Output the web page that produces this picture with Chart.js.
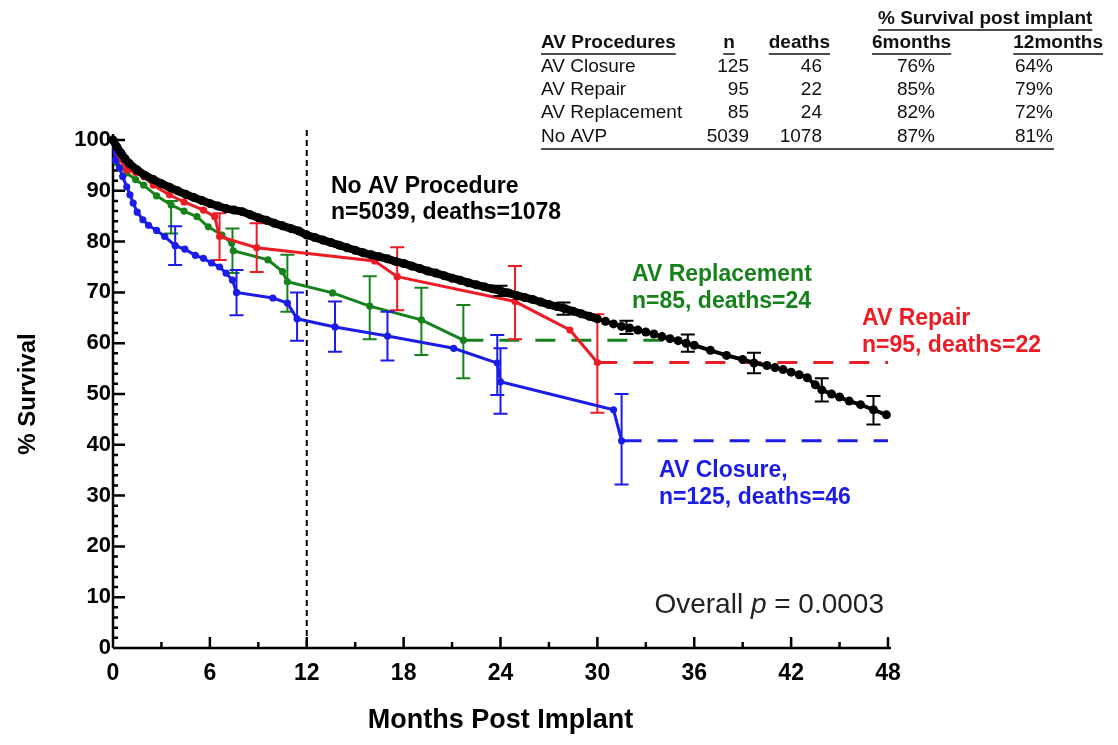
<!DOCTYPE html>
<html>
<head>
<meta charset="utf-8">
<script src="https://cdn.jsdelivr.net/npm/chart.js@4.4.0/dist/chart.umd.min.js"></script>
<style>
  html, body { margin: 0; padding: 0; background: #fff; }
</style>
</head>
<body>
<canvas id="km" width="1118" height="745"></canvas>
<script>
// Kaplan-Meier survival by AV procedure
const noAvpMonths = [0, 0.25, 0.5, 0.75, 1, 1.5, 2, 2.5, 3, 3.5, 4, 4.5, 5, 5.5, 6, 6.5, 7, 7.5, 8, 8.5,
  9, 9.5, 10, 10.5, 11, 11.5, 12, 12.5, 13, 13.5, 14, 14.5, 15, 15.5, 16, 16.5, 17, 17.5, 18, 18.5,
  19, 19.5, 20, 20.5, 21, 21.5, 22, 22.5, 23, 23.5, 24, 24.5, 25, 25.5, 26, 26.5, 27, 27.5, 28, 28.5,
  29, 29.5, 30, 30.5, 31, 31.5, 32, 32.5, 33, 33.5, 34, 34.5, 35, 35.5, 36, 37, 38, 39, 39.7, 40.5,
  41, 41.5, 42, 42.5, 43, 43.5, 43.9, 44.5, 45, 45.6, 46.3, 47.1, 47.9];
const noAvpSurv = [100, 98.6, 97.4, 96.3, 95.4, 94.1, 93.0, 92.2, 91.4, 90.7, 90.0, 89.3, 88.7, 88.1, 87.5, 87.0, 86.5, 86.2, 85.9, 85.3,
  84.7, 84.2, 83.6, 83.1, 82.6, 82.1, 81.3, 80.8, 80.3, 79.8, 79.3, 78.8, 78.3, 77.8, 77.4, 77.0, 76.6, 76.1, 75.7, 75.2,
  74.7, 74.2, 73.8, 73.3, 72.8, 72.4, 71.9, 71.5, 71.1, 70.7, 70.3, 69.9, 69.4, 69.0, 68.6, 68.1, 67.6, 67.2, 66.8, 66.3,
  65.8, 65.3, 64.8, 64.3, 63.8, 63.3, 63.0, 62.6, 62.2, 61.8, 61.3, 60.9, 60.5, 60.0, 59.6, 58.6, 57.6, 56.8, 56.1, 55.6,
  55.2, 54.8, 54.3, 53.8, 53.2, 51.8, 50.8, 50.0, 49.4, 48.6, 47.9, 46.9, 45.9];
const noAvpErrMonths = [24, 27.9, 31.8, 35.6, 39.7, 43.9, 47.1];
const noAvpErrLow = [69.3, 65.6, 61.8, 58.3, 54.1, 48.5, 44.0];
const noAvpErrHigh = [71.3, 68.0, 64.4, 61.7, 58.1, 53.1, 49.6];

const closureMonths = [0, 0.15, 0.4, 0.6, 0.85, 1.05, 1.25, 1.5, 1.85, 2.2, 2.7, 3.2, 3.85, 4.45, 5.1, 5.6,
  6.1, 6.6, 7.0, 7.4, 7.65, 9.9, 10.8, 11.4, 13.75, 17.0, 21.1, 23.8, 24.0, 31.0, 31.5];
const closureSurv = [100, 96, 94.5, 92.8, 90.8, 89.2, 87.6, 85.8, 84.3, 83.2, 82.2, 81.0, 79.2, 78.5, 77.3, 76.7,
  75.8, 75.0, 73.8, 72.4, 70.0, 68.9, 67.9, 64.8, 63.2, 61.4, 59.0, 56.1, 52.4, 46.9, 40.8];
const closureErrMonths = [3.85, 7.65, 11.4, 13.75, 17.0, 23.8, 24.0, 31.5];
const closureErrLow = [75.4, 65.5, 60.5, 58.3, 56.6, 49.8, 46.1, 32.2];
const closureErrHigh = [83.0, 74.4, 70.0, 68.2, 66.2, 61.6, 59.0, 50.0];

const repairMonths = [0, 0.3, 0.85, 1.4, 1.9, 2.5, 3.5, 4.4, 5.6, 6.3, 6.6, 8.9, 16.2, 17.6, 24.9, 28.3, 30.0];
const repairSurv = [100, 96.8, 94.1, 93.6, 92.8, 91.1, 89.2, 87.8, 86.2, 84.9, 81.0, 78.8, 76.2, 73.1, 68.2, 62.6, 56.2];
const repairErrMonths = [6.6, 8.9, 17.6, 24.9, 30.0];
const repairErrLow = [76.4, 74.0, 66.5, 60.8, 46.3];
const repairErrHigh = [85.6, 83.6, 78.9, 75.2, 65.7];

const replMonths = [0, 0.23, 0.85, 1.4, 1.9, 2.7, 3.6, 4.4, 5.2, 5.9, 6.75, 7.35, 7.45, 9.6, 10.5, 10.8,
  13.6, 15.9, 19.1, 21.7];
const replSurv = [100, 95.5, 93.5, 92.2, 91.1, 89.0, 87.2, 86.0, 84.9, 82.9, 81.3, 79.7, 78.2, 76.4, 74.1, 72.1,
  69.9, 67.3, 64.6, 60.6];
const replErrMonths = [3.6, 7.4, 10.8, 15.9, 19.1, 21.7];
const replErrLow = [81.6, 73.8, 66.2, 60.8, 57.7, 53.1];
const replErrHigh = [88.0, 82.6, 77.4, 73.2, 70.9, 67.5];

// where the dashed "last value carried forward" lines stop: closure, repair, replacement
const dashEndMonths = [48, 48, 35];

const xTicks = [0, 6, 12, 18, 24, 30, 36, 42, 48];
const yTicks = [0, 10, 20, 30, 40, 50, 60, 70, 80, 90, 100];

const tableHead = ['AV Procedures', 'n', 'deaths', '6months', '12months'];
const tableGroups = ['AV Closure', 'AV Repair', 'AV Replacement', 'No AVP'];
const tableN = ['125', '95', '85', '5039'];
const tableDeaths = ['46', '22', '24', '1078'];
const tableSurv6 = ['76%', '85%', '82%', '87%'];
const tableSurv12 = ['64%', '79%', '72%', '81%'];

const RED = '#ec1c24';
const GREEN = '#17821c';
const BLUE = '#1c1ce8';
const SANS = '"Liberation Sans", Arial, sans-serif';

function pts(xs, ys) {
  return xs.map((x, i) => ({ x: x, y: ys[i] }));
}

function carry(xs, ys, end) {
  const last = ys[ys.length - 1];
  return [{ x: xs[xs.length - 1], y: last }, { x: end, y: last }];
}

function curve(xs, ys, color, r, w) {
  return {
    data: pts(xs, ys),
    borderColor: color,
    backgroundColor: color,
    pointBackgroundColor: color,
    pointBorderColor: color,
    pointBorderWidth: 0,
    pointRadius: r,
    borderWidth: w,
    tension: 0,
    clip: false
  };
}

function dashed(xs, ys, end, color) {
  return {
    data: carry(xs, ys, end),
    borderColor: color,
    borderWidth: 3,
    borderDash: [20, 16],
    pointRadius: 0,
    clip: false
  };
}

const black = curve(noAvpMonths, noAvpSurv, '#000', 4.5, 4);
// the early part of the big cohort reads as a solid thick band
black.segment = { borderWidth: c => (c.p0.parsed.x < 30 ? 8 : 4) };
black.err = [noAvpErrMonths, noAvpErrLow, noAvpErrHigh];
const blue = curve(closureMonths, closureSurv, BLUE, 3.6, 3);
blue.err = [closureErrMonths, closureErrLow, closureErrHigh];
const red = curve(repairMonths, repairSurv, RED, 3.6, 3);
red.err = [repairErrMonths, repairErrLow, repairErrHigh];
const green = curve(replMonths, replSurv, GREEN, 3.6, 3);
green.err = [replErrMonths, replErrLow, replErrHigh];

// error bars, drawn right after their own curve
const errorBars = {
  id: 'errorBars',
  afterDatasetDraw(chart, args) {
    const ds = chart.data.datasets[args.index];
    if (!ds.err) return;
    const { x, y } = chart.scales;
    const ctx = chart.ctx;
    ctx.save();
    ctx.strokeStyle = ds.borderColor;
    ctx.lineWidth = 2;
    ds.err[0].forEach((m, i) => {
      const px = x.getPixelForValue(m);
      const lo = y.getPixelForValue(ds.err[1][i]);
      const hi = y.getPixelForValue(ds.err[2][i]);
      ctx.beginPath();
      ctx.moveTo(px, lo); ctx.lineTo(px, hi);
      ctx.moveTo(px - 7, lo); ctx.lineTo(px + 7, lo);
      ctx.moveTo(px - 7, hi); ctx.lineTo(px + 7, hi);
      ctx.stroke();
    });
    ctx.restore();
  }
};

// inward tick marks, minor ticks and the 12 month reference line
const axisMarks = {
  id: 'axisMarks',
  beforeDatasetsDraw(chart) {
    const { ctx, chartArea: a, scales: { x, y } } = chart;
    ctx.save();
    ctx.strokeStyle = '#000';
    ctx.lineWidth = 2.5;
    ctx.beginPath();
    ctx.moveTo(a.left, y.getPixelForValue(0)); ctx.lineTo(a.right + 3, y.getPixelForValue(0));
    ctx.moveTo(a.left, y.getPixelForValue(0)); ctx.lineTo(a.left, a.top - 6);
    for (let v = 0; v <= 100; v += 2) {
      const py = y.getPixelForValue(v);
      ctx.moveTo(a.left, py); ctx.lineTo(a.left + (v % 10 === 0 ? 12 : 5), py);
    }
    for (let m = 0; m <= 48; m += 3) {
      const px = x.getPixelForValue(m);
      ctx.moveTo(px, a.bottom); ctx.lineTo(px, a.bottom - (m % 6 === 0 ? 11 : 6));
    }
    ctx.stroke();
    ctx.lineWidth = 2;
    ctx.setLineDash([6, 4]);
    ctx.beginPath();
    const px12 = x.getPixelForValue(12);
    ctx.moveTo(px12, a.top - 10); ctx.lineTo(px12, a.bottom);
    ctx.stroke();
    ctx.restore();
  }
};

function underline(ctx, x, y, w) {
  ctx.beginPath();
  ctx.moveTo(x, y); ctx.lineTo(x + w, y);
  ctx.stroke();
}

const texts = {
  id: 'texts',
  afterDraw(chart) {
    const ctx = chart.ctx;
    ctx.save();
    ctx.textBaseline = 'middle';

    // group labels
    ctx.font = 'bold 23px ' + SANS;
    ctx.textAlign = 'left';
    ctx.fillStyle = '#000';
    ctx.fillText('No AV Procedure', 331, 187);
    ctx.fillText('n=5039, deaths=1078', 331, 213);
    ctx.fillStyle = GREEN;
    ctx.fillText('AV Replacement', 632, 275);
    ctx.fillText('n=85, deaths=24', 632, 302);
    ctx.fillStyle = RED;
    ctx.fillText('AV Repair', 862, 319);
    ctx.fillText('n=95, deaths=22', 862, 346);
    ctx.fillStyle = BLUE;
    ctx.fillText('AV Closure,', 659, 471);
    ctx.fillText('n=125, deaths=46', 659, 498);

    // p value
    ctx.fillStyle = '#222';
    ctx.font = '28px ' + SANS;
    ctx.textAlign = 'right';
    const tail = ' = 0.0003';
    ctx.fillText(tail, 884, 605);
    let xr = 884 - ctx.measureText(tail).width;
    ctx.font = 'italic 28px ' + SANS;
    ctx.fillText('p', xr, 605);
    xr -= ctx.measureText('p').width;
    ctx.font = '28px ' + SANS;
    ctx.fillText('Overall ', xr, 605);

    // summary table
    ctx.fillStyle = '#111';
    ctx.strokeStyle = '#111';
    ctx.lineWidth = 1.5;
    ctx.font = 'bold 19px ' + SANS;
    ctx.textAlign = 'left';
    const title = '% Survival post implant';
    ctx.fillText(title, 878, 19);
    underline(ctx, 878, 30, ctx.measureText(title).width);

    const headX = [541, 729, 830, 872, 1103];
    const headAlign = ['left', 'center', 'right', 'left', 'right'];
    tableHead.forEach((h, i) => {
      ctx.textAlign = headAlign[i];
      ctx.fillText(h, headX[i], 43);
      const w = ctx.measureText(h).width;
      const x0 = headAlign[i] === 'left' ? headX[i] : headAlign[i] === 'right' ? headX[i] - w : headX[i] - w / 2;
      underline(ctx, x0, 54, w);
    });

    ctx.font = '19px ' + SANS;
    const rowY = [67, 90, 113, 137];
    const cols = [tableGroups, tableN, tableDeaths, tableSurv6, tableSurv12];
    const colX = [541, 749, 822, 935, 1053];
    cols.forEach((col, c) => {
      ctx.textAlign = c === 0 ? 'left' : 'right';
      col.forEach((t, r) => ctx.fillText(t, colX[c], rowY[r]));
    });
    underline(ctx, 541, 149, 1054 - 541);
    ctx.restore();
  }
};

new Chart(document.getElementById('km'), {
  type: 'line',
  data: {
    datasets: [
      black,
      blue,
      red,
      green,
      dashed(closureMonths, closureSurv, dashEndMonths[0], BLUE),
      dashed(repairMonths, repairSurv, dashEndMonths[1], RED),
      dashed(replMonths, replSurv, dashEndMonths[2], GREEN)
    ]
  },
  options: {
    responsive: false,
    animation: false,
    layout: { padding: { top: 140, right: 230, left: 0, bottom: 0 } },
    plugins: { legend: { display: false }, tooltip: { enabled: false } },
    scales: {
      x: {
        type: 'linear',
        min: 0,
        max: 48,
        afterFit: s => { s.height = 97; },
        afterBuildTicks: s => { s.ticks = xTicks.map(v => ({ value: v })); },
        grid: { display: false, drawTicks: false },
        border: { display: false },
        ticks: { color: '#000', padding: 12, font: { family: SANS, size: 23, weight: 'bold' } },
        title: { display: true, text: 'Months Post Implant', color: '#000',
          padding: { top: 0, bottom: 8 }, font: { family: SANS, size: 27, weight: 'bold' } }
      },
      y: {
        min: 0,
        max: 100,
        afterFit: s => { s.width = 113; },
        afterBuildTicks: s => { s.ticks = yTicks.map(v => ({ value: v })); },
        grid: { display: false, drawTicks: false },
        border: { display: false },
        ticks: { color: '#000', padding: 2, font: { family: SANS, size: 22, weight: 'bold' } },
        title: { display: true, text: '% Survival', color: '#000',
          padding: { top: 14, bottom: 0 }, font: { family: SANS, size: 24, weight: 'bold' } }
      }
    }
  },
  plugins: [axisMarks, errorBars, texts]
});
</script>
</body>
</html>
